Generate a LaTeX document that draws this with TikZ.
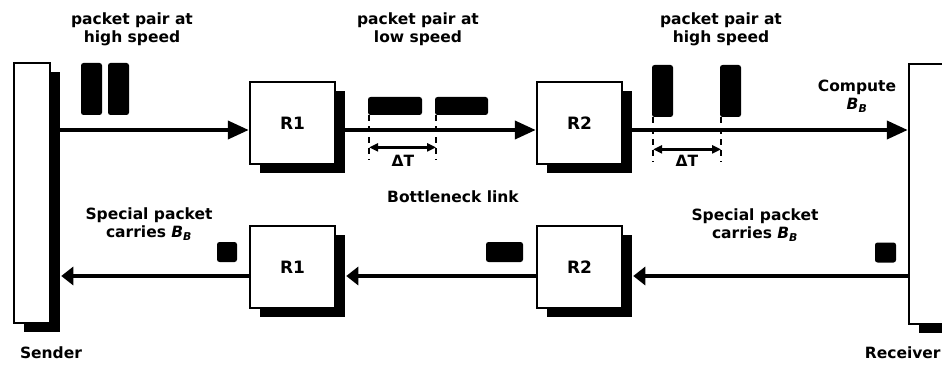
\documentclass[tikz,border=0pt]{standalone}
\usepackage{fontspec}
\setmainfont{DejaVu Sans}
\usetikzlibrary{arrows.meta,shadows,calc,positioning}
\tikzset{every picture/.style={line width=0.75pt}}
\newcommand{\bneck}{\textit{B}\textsubscript{\textit{B}}}

\begin{document}
\begin{tikzpicture}[x=1pt,y=-1pt,
    font=\bfseries\fontsize{15.5}{18}\selectfont,
    router/.style={draw,line width=2.5pt,fill=white,minimum width=85pt,minimum height=82pt,
        font=\bfseries\fontsize{17}{20}\selectfont,
        general shadow={fill=black,shadow xshift=10pt,shadow yshift=-9pt}},
    host/.style={router,minimum width=36pt,minimum height=260pt},
    packet/.style={fill=black,rounded corners=2.5pt,inner sep=0pt},
    fwd/.style={line width=4pt,-{Triangle[length=21pt,width=18pt]}},
    back/.style={line width=3.5pt,-{Triangle[length=12pt,width=18pt]}},
    tick/.style={line width=2pt,dash pattern=on 6pt off 5pt},
    gap/.style={line width=2.5pt,{Triangle[length=9pt,width=8pt]}-{Triangle[length=9pt,width=8pt]}}]
    \useasboundingbox (0,0) rectangle (942,366);
    % Endpunkte
    \node[host] (sender) at (32,193) {};
    \node[host] (receiver) at (927,194) {};
    \node (sendlbl) at (51,353) {Sender};
    \node[anchor=east,inner xsep=1pt] (recvlbl) at (942,353) {Receiver};
    % Router
    \node[router] (r1top) at (292.5,123) {R1};
    \node[router] (r2top) at (579.5,123) {R2};
    \node[router] (r1bot) at (292.5,267) {R1};
    \node[router] (r2bot) at (579.5,267) {R2};
    % Hinweg
    \coordinate (upper) at (0,130);
    \coordinate (lower) at (0,276);
    \draw[fwd] (sender.east |- upper) -- (r1top.west |- upper);
    \draw[fwd] (r1top.east |- upper) -- (r2top.west |- upper);
    \draw[fwd] (r2top.east |- upper) -- (receiver.west |- upper);
    % Rueckweg
    \draw[back] (receiver.west |- lower) -- ($(r2bot.east |- lower)+(10,0)$);
    \draw[back] (r2bot.west |- lower) -- ($(r1bot.east |- lower)+(10,0)$);
    \draw[back] (r1bot.west |- lower) -- ($(sender.east |- lower)+(10,0)$);
    % Pakete
    \node[packet,minimum width=21pt,minimum height=52pt] (pa1) at (91.5,89) {};
    \node[packet,minimum width=21pt,minimum height=52pt] (pa2) at (118.5,89) {};
    \node[packet,minimum width=54pt,minimum height=18pt] (pb1) at (395,106) {};
    \node[packet,minimum width=53pt,minimum height=18pt] (pb2) at (461.5,106) {};
    \node[packet,minimum width=21pt,minimum height=52pt] (pc1) at (662.5,91) {};
    \node[packet,minimum width=21pt,minimum height=52pt] (pc2) at (730.5,91) {};
    \node[packet,minimum width=20pt,minimum height=20pt] (pd1) at (227,252) {};
    \node[packet,minimum width=37pt,minimum height=20pt] (pd2) at (504.5,252) {};
    \node[packet,minimum width=21pt,minimum height=20pt] (pd3) at (885.5,252.5) {};
    % Abstand Delta T
    \foreach \p in {pb1,pb2,pc1,pc2} {
        \coordinate (\p-end) at ($(\p.south west)+(1.5,45)$);
        \coordinate (\p-gap) at ($(\p.south west)+(1.5,32)$);
        \draw[tick] ($(\p.south west)+(1.5,0)$) -- (\p-end);
    }
    \draw[gap] (pb1-gap) -- (pb2-gap);
    \draw[gap] (pc1-gap) -- (pc2-gap);
    \node (dtb) at (403,161) {ΔT};
    \node (dtc) at (687,161) {ΔT};
    % Beschriftung
    \node[align=center] (lbla) at (132,29) {packet pair at\\high speed};
    \node[align=center] (lblb) at (418,29) {packet pair at\\low speed};
    \node[align=center] (lblc) at (721,29) {packet pair at\\high speed};
    \node[align=center] (compute) at (857,96) {Compute\\\bneck};
    \node (bottle) at (453,197) {Bottleneck link};
    \node[align=center] (speca) at (149,224) {Special packet\\carries \bneck};
    \node[align=center] (specb) at (755,225) {Special packet\\carries \bneck};
\end{tikzpicture}
\end{document}
